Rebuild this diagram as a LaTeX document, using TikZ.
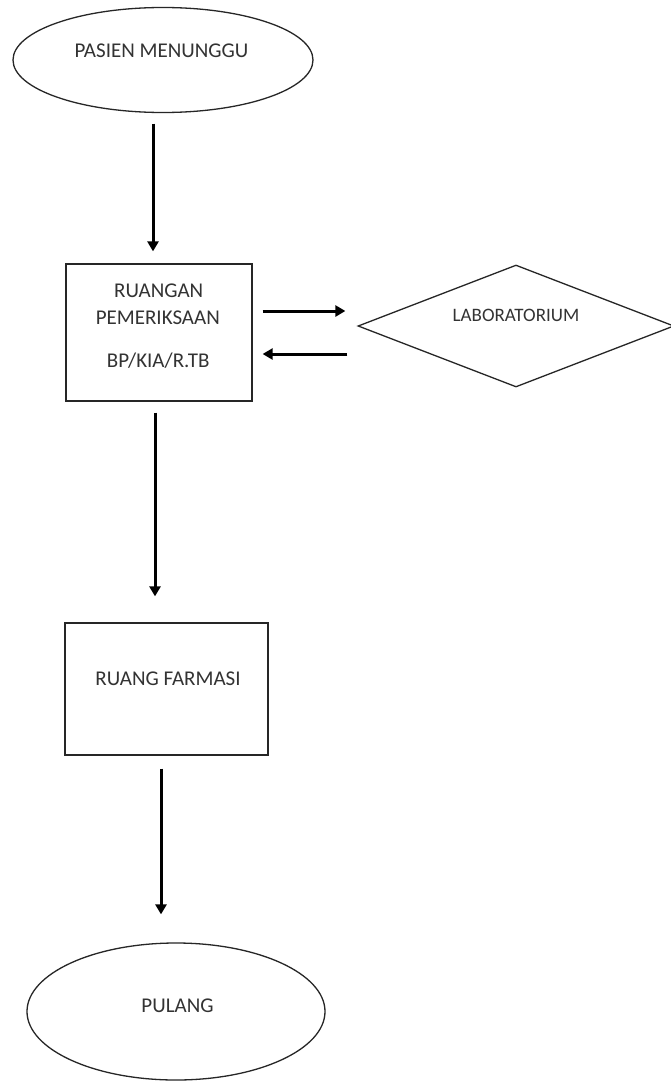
\documentclass[tikz,border=0pt]{standalone}
\usepackage{fontspec}
\setmainfont{Carlito}
\usetikzlibrary{shapes.geometric,arrows.meta,calc}
\begin{document}
\begin{tikzpicture}[x=1pt,y=-1pt,
  shapeline/.style={draw=black!85,line width=1.3pt,inner sep=0pt,fill=white},
  oval/.style={shapeline,ellipse},
  boxnode/.style={shapeline,rectangle},
  decision/.style={shapeline,diamond},
  lab/.style={font=\fontsize{21}{25}\selectfont,text=black!80,inner sep=0pt,anchor=base},
  conn/.style={line width=3pt,-{Triangle[length=10pt,width=11pt]}}]
\useasboundingbox[fill=white] (0,0) rectangle (671,1081);
% shapes
\node[oval,minimum width=300pt,minimum height=105pt] (wait) at (163,60) {};
\node[boxnode,minimum width=186pt,minimum height=137pt] (exam) at (159,332.5) {};
\node[decision,minimum width=316pt,minimum height=122pt] (lab) at (516,326) {};
\node[boxnode,minimum width=203pt,minimum height=132pt] (pharm) at (166.5,689) {};
\node[oval,minimum width=298pt,minimum height=137pt] (home) at (176,1011.5) {};
% labels
\node[lab] (waitT) at (161.5,57) {PASIEN MENUNGGU};
\node[lab] (examT1) at (158.7,297) {RUANGAN};
\node[lab] (examT2) at (157.8,324) {PEMERIKSAAN};
\node[lab] (examT3) at (158.3,367) {BP/KIA/R.TB};
\node[lab,font=\fontsize{19}{23}\selectfont] (labT) at (516,321) {LABORATORIUM};
\node[lab] (pharmT) at (168,685) {RUANG FARMASI};
\node[lab] (homeT) at (177.5,1012) {PULANG};
% connectors
\draw[conn] ($(wait.south)+(-10,10.5)$) -- ($(exam.north)+(-6,-12)$);
\draw[conn] ($(exam.east)+(10,-21.5)$) -- ($(lab.west)+(-12,-15)$);
\draw[conn] ($(lab.west)+(-10,28)$) -- ($(exam.east)+(10,21.5)$);
\draw[conn] ($(exam.south)+(-4,11)$) -- ($(pharm.north)+(-11.5,-26)$);
\draw[conn] ($(pharm.south)+(-5.5,13)$) -- ($(home.north)+(-15,-28)$);
\end{tikzpicture}
\end{document}
